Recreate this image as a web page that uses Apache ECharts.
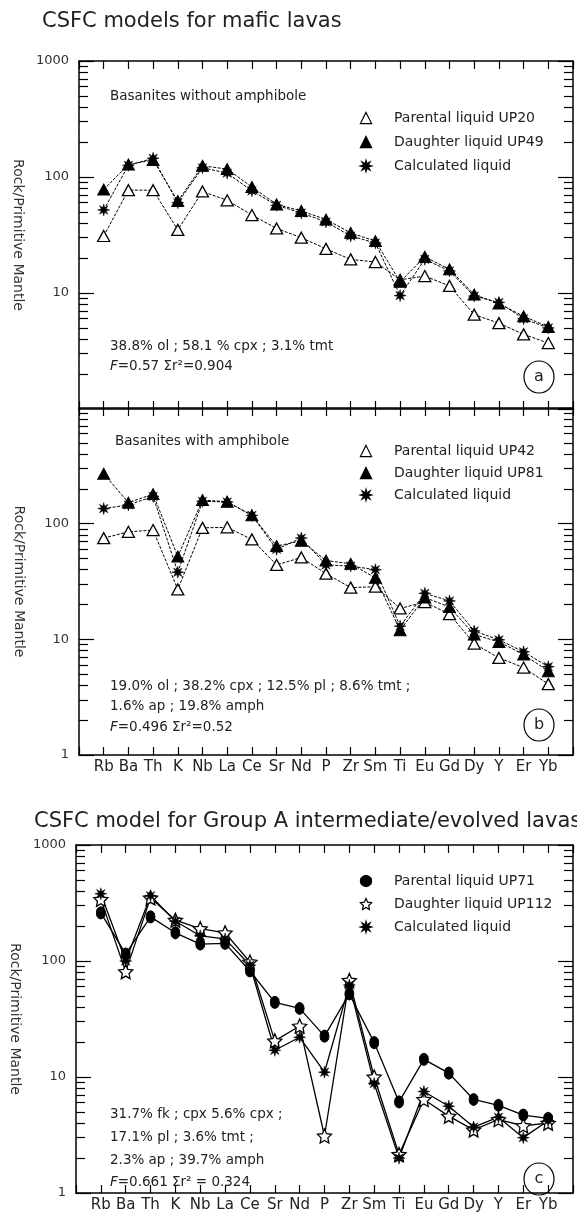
<!DOCTYPE html>
<html>
<head>
<meta charset="utf-8">
<title>CSFC models</title>
<script src="https://cdn.jsdelivr.net/npm/echarts@6/dist/echarts.min.js"></script>
<style>
  html, body { margin: 0; padding: 0; background: #fff; }
  #chart { width: 577px; height: 1215px; }
</style>
</head>
<body>
<div id="chart"></div>
<script>
// element order on the x axis
var elements = ['Rb', 'Ba', 'Th', 'K', 'Nb', 'La', 'Ce', 'Sr', 'Nd', 'P', 'Zr', 'Sm', 'Ti', 'Eu', 'Gd', 'Dy', 'Y', 'Er', 'Yb'];
var majorTicks = [1, 10, 100, 1000];
var minorTicks = [2, 3, 4, 5, 6, 7, 8, 9, 20, 30, 40, 50, 60, 70, 80, 90, 200, 300, 400, 500, 600, 700, 800, 900];

// (a) basanites without amphibole
var up20  = [31, 77, 77, 35, 75, 63, 47, 36, 30, 24, 19.5, 18.5, 13, 14, 11.5, 6.5, 5.5, 4.4, 3.7];
var up49  = [78, 128, 140, 62, 125, 117, 82, 58, 51, 43, 33, 28, 12.5, 20.5, 16, 9.7, 8.1, 6.3, 5.1];
var calcA = [52, 126, 145, 60, 120, 108, 76, 57, 49, 41, 31, 27, 9.5, 19.5, 15.5, 9.4, 8.3, 6.0, 5.0];

// (b) basanites with amphibole
var up42  = [75, 85, 88, 27, 92, 93, 73, 44, 51, 37, 28, 28.5, 18.5, 21, 16.5, 9.2, 6.9, 5.7, 4.1];
var up81  = [270, 152, 180, 52, 160, 155, 118, 64, 71, 48, 45, 34, 12, 23, 19, 11, 9.5, 7.4, 5.3];
var calcB = [135, 145, 172, 38, 156, 154, 118, 60, 75, 44, 43, 40, 13, 25, 21.5, 11.8, 9.9, 7.8, 5.8];

// (c) group A intermediate/evolved lavas
var up71  = [260, 115, 240, 175, 140, 142, 82, 44, 39, 22.5, 52, 19.8, 6.1, 14.2, 10.8, 6.4, 5.7, 4.7, 4.4];
var up112 = [340, 81, 350, 225, 190, 175, 98, 20.5, 27.5, 3.1, 68, 10, 2.15, 6.4, 4.6, 3.5, 4.3, 3.8, 4.0];
var calcC = [380, 100, 365, 220, 165, 155, 92, 17, 22, 11, 62, 8.8, 2.0, 7.5, 5.6, 3.7, 4.5, 3.0, 4.2];

var FONT = 'DejaVu Sans';
var INK = '#222';

function pts(vals) {
  return vals.map(function (v, i) { return [i, v]; });
}

// polygon path for marker shapes (radii alternate outer / inner)
function starPath(n, rOut, rIn, sx) {
  var s = 'path://';
  for (var i = 0; i < n * 2; i++) {
    var r = i % 2 === 0 ? rOut : rIn;
    var a = -Math.PI / 2 + i * Math.PI / n;
    s += (i === 0 ? 'M' : 'L') + (Math.cos(a) * r * sx).toFixed(3) + ' ' + (Math.sin(a) * r).toFixed(3);
  }
  return s + 'Z';
}
var asterisk = starPath(8, 1, 0.42, 1);
var openStar = starPath(5, 1, 0.48, 1);
var oval = starPath(6, 1, 0.97, 0.72);

var openTri = { symbol: 'triangle', symbolSize: [12, 11], itemStyle: { color: '#fff', borderColor: '#000', borderWidth: 1.3 } };
var fullTri = { symbol: 'triangle', symbolSize: [12, 11], itemStyle: { color: '#000', borderColor: '#000', borderWidth: 1 } };
var aster = { symbol: asterisk, symbolSize: 12, itemStyle: { color: '#000', borderColor: '#000', borderWidth: 0.5 } };
var ovalSym = { symbol: oval, symbolSize: [9, 12], symbolKeepAspect: false, itemStyle: { color: '#000', borderColor: '#000', borderWidth: 1 } };
var starSym = { symbol: openStar, symbolSize: 14, itemStyle: { color: '#fff', borderColor: '#000', borderWidth: 1.3 } };

var panels = [
  { left: 79, top: 61, height: 348, xLabels: false, showMin: false, showMax: true },
  { left: 79, top: 408, height: 347, xLabels: true, showMin: true, showMax: false },
  { left: 75, top: 845, height: 348, xLabels: true, showMin: true, showMax: true }
];

var grids = [], xAxes = [], yAxes = [];
panels.forEach(function (p, k) {
  grids.push({ left: p.left, top: p.top, width: 577 - 4 - p.left, height: p.height });
  [false, true].forEach(function (isTop) {
    xAxes.push({
      gridIndex: k, type: 'value', min: -1, max: 19, interval: 1,
      position: isTop ? 'top' : 'bottom',
      axisLine: { onZero: false, lineStyle: { color: '#000', width: 1.5 } },
      axisTick: { inside: true, length: 8, lineStyle: { color: '#000', width: 1.2 } },
      axisLabel: {
        show: !isTop && p.xLabels, margin: 5, fontFamily: FONT, fontSize: 15, color: INK,
        formatter: function (v) { return elements[v] !== undefined ? elements[v] : ''; }
      },
      splitLine: { show: false }
    });
  });
  ['left', 'right'].forEach(function (side) {
    yAxes.push({
      gridIndex: k, type: 'log', logBase: 10, min: 1, max: 1000, position: side,
      axisLine: { show: true, onZero: false, lineStyle: { color: '#000', width: 1.5 } },
      axisTick: { inside: true, length: 15, lineStyle: { color: '#000', width: 1.2 } },
      axisLabel: {
        show: side === 'left', margin: 10, fontFamily: FONT, fontSize: 13, color: '#333',
        showMinLabel: p.showMin, showMaxLabel: p.showMax,
        formatter: function (v) { return String(v); }
      },
      name: side === 'left' ? 'Rock/Primitive Mantle' : '',
      nameLocation: 'middle', nameRotate: -90, nameGap: 53,
      nameTextStyle: { fontFamily: FONT, fontSize: 14, color: '#333' },
      splitLine: { show: false }
    });
    // minor decade ticks, placed on a log10 value axis of the same grid
    yAxes.push({
      gridIndex: k, type: 'value', min: 0, max: 3, position: side,
      axisLine: { show: false, onZero: false },
      axisTick: { show: true, inside: true, length: 9, lineStyle: { color: '#000', width: 1.2 },
        customValues: minorTicks.map(function (t) { return Math.log10(t); }) },
      axisLabel: { show: false },
      splitLine: { show: false }
    });
  });
});

function line(name, k, vals, sym, dashed) {
  return Object.assign({
    name: name, type: 'line', xAxisIndex: 2 * k, yAxisIndex: 4 * k,
    data: pts(vals),
    lineStyle: dashed ? { color: '#000', width: 1, type: [3, 1.5] } : { color: '#000', width: 1.3 },
    emphasis: { disabled: true },
    z: 3
  }, sym);
}

var series = [
  line('Parental liquid UP20', 0, up20, openTri, true),
  line('Daughter liquid UP49', 0, up49, fullTri, true),
  line('Calculated liquid', 0, calcA, aster, true),
  line('Parental liquid UP42', 1, up42, openTri, true),
  line('Daughter liquid UP81', 1, up81, fullTri, true),
  line('Calculated liquid', 1, calcB, aster, true),
  line('Parental liquid UP71', 2, up71, ovalSym, false),
  line('Daughter liquid UP112', 2, up112, starSym, false),
  line('Calculated liquid', 2, calcC, aster, false)
];

function legend(names, top, gap) {
  return {
    data: names, orient: 'vertical', left: 338, top: top, itemGap: gap,
    itemWidth: 46, itemHeight: 14, selectedMode: false,
    itemStyle: { borderWidth: 1.2 },
    lineStyle: { opacity: 0, width: 0 },
    textStyle: { fontFamily: FONT, fontSize: 14, color: INK }
  };
}

function txt(x, y, s, size) {
  return {
    type: 'text', x: x, y: y,
    style: {
      text: s, fontFamily: FONT, fontSize: size || 13.5, fill: INK, verticalAlign: 'middle',
      rich: { i: { fontFamily: FONT, fontSize: size || 13.5, fontStyle: 'italic', fill: INK } }
    }
  };
}
function tag(cx, cy, s) {
  return [
    { type: 'ellipse', shape: { cx: cx, cy: cy, rx: 15, ry: 16 }, style: { fill: 'none', stroke: '#000', lineWidth: 1.2 } },
    { type: 'text', x: cx, y: cy, style: { text: s, fontFamily: FONT, fontSize: 16, fill: INK, align: 'center', verticalAlign: 'middle' } }
  ];
}

var graphics = [
  txt(42, 22, 'CSFC models for mafic lavas', 21),
  txt(34, 822, 'CSFC model for Group A intermediate/evolved lavas', 21),
  txt(110, 96, 'Basanites without amphibole'),
  txt(110, 346, '38.8% ol ; 58.1 % cpx ; 3.1% tmt'),
  txt(110, 366, '{i|F}=0.57 Σr²=0.904'),
  txt(115, 441, 'Basanites with amphibole'),
  txt(110, 686, '19.0% ol ; 38.2% cpx ; 12.5% pl ; 8.6% tmt ;'),
  txt(110, 706, '1.6% ap ; 19.8% amph'),
  txt(110, 727, '{i|F}=0.496 Σr²=0.52'),
  txt(110, 1114, '31.7% fk ; cpx 5.6% cpx ;'),
  txt(110, 1137, '17.1% pl ; 3.6% tmt ;'),
  txt(110, 1160, '2.3% ap ; 39.7% amph'),
  txt(110, 1182, '{i|F}=0.661 Σr² = 0.324')
].concat(tag(539, 377, 'a'), tag(539, 725, 'b'), tag(539, 1179, 'c'));

var chart = echarts.init(document.getElementById('chart'), null, { renderer: 'canvas' });
chart.setOption({
  animation: false,
  backgroundColor: '#fff',
  grid: grids,
  xAxis: xAxes,
  yAxis: yAxes,
  legend: [
    legend(['Parental liquid UP20', 'Daughter liquid UP49', 'Calculated liquid'], 106, 10),
    legend(['Parental liquid UP42', 'Daughter liquid UP81', 'Calculated liquid'], 439, 8),
    legend(['Parental liquid UP71', 'Daughter liquid UP112', 'Calculated liquid'], 869, 9)
  ],
  series: series,
  graphic: graphics
});
</script>
</body>
</html>
